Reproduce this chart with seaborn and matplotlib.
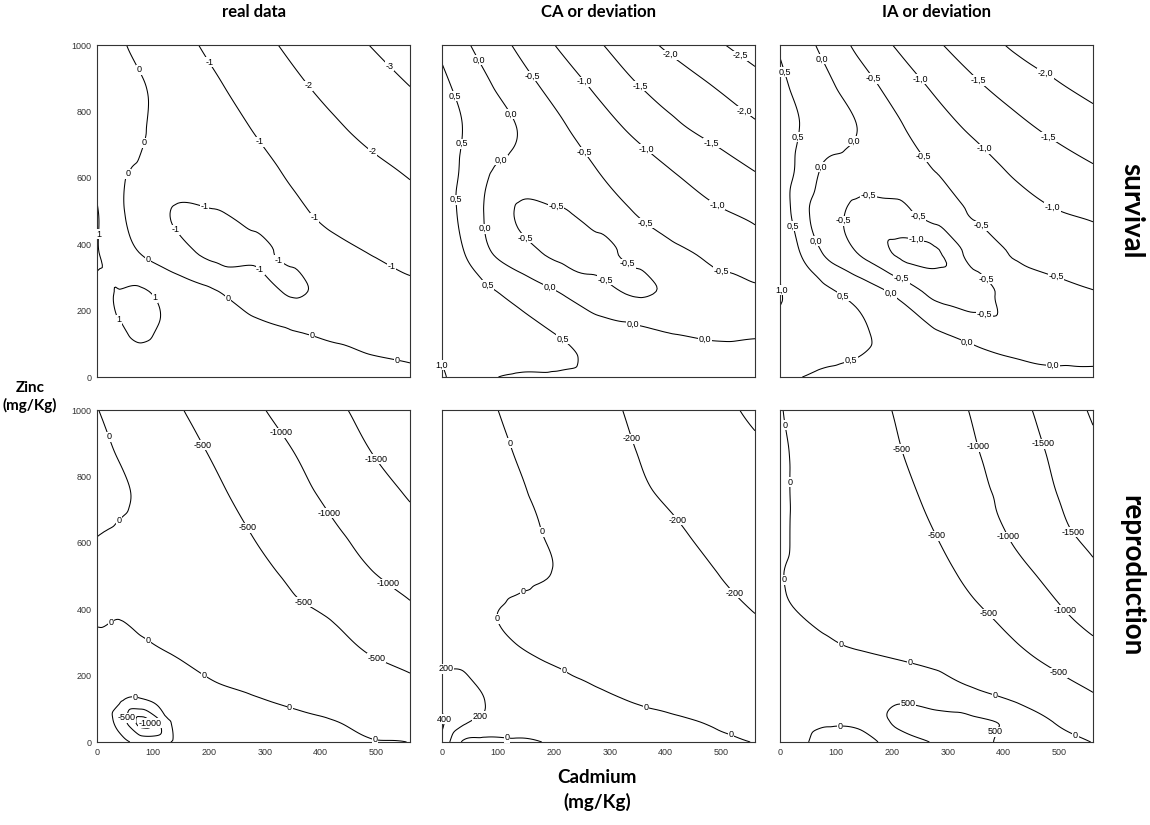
import numpy as np
import matplotlib
matplotlib.use("Agg")
import matplotlib.pyplot as plt
import matplotlib.tri as mtri
import seaborn as sns

# ---------------- data ----------------
cadmium = [0, 40, 80, 140, 210, 280, 350, 420, 490, 560]
zinc = [0, 60, 125, 250, 375, 500, 625, 750, 875, 1000]

# rows = zinc (bottom -> top), columns = cadmium
survival_real = [
    [0.6, 0.8, 0.5, 0.45, 0.4, 0.35, 0.3, 0.25, 0.15, 0.1],
    [0.85, 0.9, 0.85, 0.7, 0.5, 0.35, 0.2, 0.1, 0.02, -0.05],
    [0.9, 0.95, 1.05, 0.8, 0.5, 0.3, 0.1, -0.07, -0.2, -0.31],
    [0.85, 1.03, 1.12, 0.6, 0.12, -0.49, -1.06, -0.75, -0.78, -0.8],
    [1.05, 0.4, -0.05, -0.64, -1.22, -1.1, -0.9, -0.88, -1.02, -1.26],
    [1.05, 0.15, -0.4, -1.06, -1.02, -0.85, -0.92, -1.15, -1.45, -1.71],
    [0.8, 0.15, -0.1, -0.32, -0.58, -0.82, -1.1, -1.45, -1.8, -2.1],
    [0.6, 0.35, 0.05, -0.28, -0.66, -1.03, -1.4, -1.85, -2.25, -2.56],
    [0.5, 0.25, 0.05, -0.37, -0.88, -1.35, -1.81, -2.25, -2.62, -3.0],
    [0.4, 0.1, -0.22, -0.68, -1.21, -1.70, -2.17, -2.60, -3.02, -3.4],
]
survival_ca = [
    [1.05, 0.8, 0.55, 0.45, 0.45, 0.4, 0.3, 0.25, 0.2, 0.15],
    [0.98, 0.85, 0.75, 0.65, 0.58, 0.4, 0.25, 0.12, 0.1, 0.08],
    [0.95, 0.85, 0.75, 0.65, 0.49, 0.3, 0.15, 0.01, -0.04, -0.02],
    [0.9, 0.75, 0.6, 0.35, 0.02, -0.35, -0.53, -0.42, -0.4, -0.4],
    [0.85, 0.5, 0.07, -0.31, -0.6, -0.56, -0.44, -0.46, -0.58, -0.8],
    [0.8, 0.35, -0.05, -0.56, -0.52, -0.42, -0.52, -0.73, -0.95, -1.1],
    [0.75, 0.42, 0.06, -0.15, -0.3, -0.51, -0.77, -1.04, -1.27, -1.52],
    [0.7, 0.48, 0.25, -0.03, -0.42, -0.78, -1.12, -1.43, -1.67, -1.92],
    [0.6, 0.35, 0.07, -0.3, -0.7, -1.1, -1.48, -1.74, -2.02, -2.3],
    [0.4, 0.08, -0.2, -0.6, -1.05, -1.45, -1.82, -2.15, -2.43, -2.72],
]
survival_ia = [
    [0.55, 0.5, 0.4, 0.35, 0.3, 0.25, 0.2, 0.1, 0.05, 0.05],
    [0.8, 0.7, 0.6, 0.5, 0.35, 0.2, 0.08, -0.01, -0.05, -0.05],
    [0.85, 0.8, 0.7, 0.58, 0.3, 0.07, -0.1, -0.3, -0.25, -0.2],
    [1.02, 0.8, 0.62, 0.35, -0.07, -0.62, -0.72, -0.3, -0.38, -0.47],
    [0.9, 0.45, -0.05, -0.52, -1.05, -1.05, -0.3, -0.55, -0.68, -0.78],
    [0.85, 0.15, -0.25, -0.6, -0.6, -0.3, -0.58, -0.8, -0.98, -1.08],
    [0.8, 0.35, -0.07, -0.22, -0.37, -0.52, -0.78, -1.07, -1.27, -1.45],
    [0.7, 0.47, 0.27, -0.01, -0.43, -0.79, -1.1, -1.37, -1.6, -1.8],
    [0.6, 0.35, 0.12, -0.26, -0.7, -1.09, -1.43, -1.7, -1.94, -2.13],
    [0.45, 0.17, -0.12, -0.61, -1.05, -1.44, -1.76, -2.07, -2.22, -2.38],
]
reproduction_real = [
    [400, 150, -150, 60, 50, 40, 30, 20, 10, -5],
    [350, -150, -1150, 100, 120, 80, 50, 10, -60, -150],
    [300, 40, -40, 110, 60, 20, -40, -120, -220, -320],
    [200, 130, 60, 8, -80, -180, -270, -380, -480, -590],
    [-40, -5, -60, -150, -250, -340, -430, -515, -720, -900],
    [-50, -70, -120, -200, -300, -410, -550, -780, -970, -1120],
    [5, -35, -80, -180, -340, -510, -700, -935, -1130, -1335],
    [150, 50, -50, -225, -430, -640, -870, -1090, -1310, -1545],
    [80, -25, -150, -330, -545, -770, -995, -1240, -1500, -1740],
    [10, -130, -260, -450, -690, -925, -1170, -1400, -1640, -1870],
]
reproduction_ca = [
    [350, -30, -60, -30, 20, 20, 20, 15, 8, -2],
    [430, 220, 160, 100, 70, 50, 30, 12, -8, -30],
    [330, 260, 195, 130, 75, 25, -8, -35, -60, -85],
    [180, 170, 90, 25, -20, -60, -95, -125, -150, -170],
    [160, 110, 25, -40, -75, -100, -130, -160, -180, -197],
    [150, 115, 75, 30, -10, -60, -110, -155, -196, -240],
    [140, 110, 70, 25, -20, -80, -130, -185, -235, -285],
    [130, 100, 60, 12, -55, -125, -180, -225, -275, -330],
    [110, 80, 40, -12, -75, -140, -202, -260, -315, -370],
    [90, 55, 18, -35, -100, -160, -225, -290, -350, -435],
]
reproduction_ia = [
    [400, 150, -400, -300, 300, 520, 600, 350, 100, -10],
    [380, 300, 100, 120, 560, 600, 580, 400, -5, -220],
    [350, 300, 250, 280, 470, 380, 150, -20, -210, -425],
    [250, 180, 110, 50, -5, -110, -240, -390, -590, -795],
    [40, 2, -60, -140, -230, -330, -430, -620, -880, -1150],
    [8, -40, -100, -190, -300, -400, -600, -850, -1120, -1400],
    [40, -50, -120, -230, -360, -505, -760, -1060, -1380, -1600],
    [50, -60, -145, -270, -410, -605, -900, -1140, -1480, -1750],
    [50, -70, -165, -310, -475, -700, -975, -1250, -1570, -1900],
    [15, -90, -190, -345, -530, -790, -1050, -1360, -1680, -2060],
]

levels_surv_real = [-3, -2, -1, 0, 1]
levels_surv_ca = [-2.5, -2.0, -1.5, -1.0, -0.5, 0.0, 0.5, 1.0]
levels_surv_ia = [-2.0, -1.5, -1.0, -0.5, 0.0, 0.5, 1.0]
levels_rep_real = [-1500, -1000, -500, 0, 500, 1000]
levels_rep_ca = [-400, -200, 0, 200, 400]
levels_rep_ia = [-2000, -1500, -1000, -500, 0, 500]

col_titles = ["real data", "CA or deviation", "IA or deviation"]
row_titles = ["survival", "reproduction"]
x_ticks = [0, 100, 200, 300, 400, 500]
y_ticks = [0, 200, 400, 600, 800, 1000]

# label anchor spots (Cd, Zn) where contour labels sit in the reference
label_spots = [
    [(76, 926), (70, 712), (52, 616), (94, 363), (239, 245), (386, 129), (537, 55),
     (200, 947), (290, 706), (395, 490), (525, 329),
     (193, 515), (143, 447), (318, 338), (273, 289),
     (377, 876), (490, 672), (524, 938), (90, 224), (43, 177), (3, 430)],
    [(66, 955), (124, 792), (100, 668), (70, 446), (193, 271), (342, 163), (473, 140),
     (23, 847), (35, 703), (27, 534), (85, 286), (217, 115), (5, 40),
     (160, 905), (255, 678), (366, 468), (500, 316),
     (204, 506), (148, 416), (327, 331), (282, 269),
     (253, 887), (358, 674), (488, 506), (354, 875), (479, 694),
     (405, 964), (539, 797), (533, 967)],
    [(69, 952), (135, 706), (77, 630), (65, 409), (196, 246), (335, 104), (488, 35),
     (12, 920), (35, 721), (22, 454), (116, 249), (130, 35), (4, 261),
     (165, 896), (256, 663), (356, 447), (491, 288),
     (160, 565), (105, 472), (246, 482), (216, 291), (367, 293), (365, 184),
     (243, 412), (249, 894), (362, 683), (488, 513),
     (353, 889), (479, 719), (473, 907)],
    [(23, 920), (45, 658), (20, 375), (90, 304), (193, 206), (345, 106), (500, 30),
     (70, 154), (185, 889), (269, 646), (373, 430), (501, 256),
     (325, 927), (412, 685), (523, 482), (499, 852),
     (41, 75), (88, 55)],
    [(120, 900), (183, 636), (149, 435), (91, 368), (213, 198), (365, 102), (520, 37),
     (117, 22), (342, 915), (418, 664), (521, 445), (7, 213), (73, 62), (10, 70)],
    [(9, 954), (14, 783), (6, 488), (113, 307), (232, 237), (384, 141), (530, 25),
     (107, 42), (215, 881), (283, 624), (383, 403), (502, 217),
     (352, 888), (414, 624), (513, 403), (465, 896), (526, 634),
     (229, 123), (383, 30)],
]

# ---------------- style ----------------
sns.set_theme(style="white")
plt.rcParams["font.family"] = ["Liberation Sans Narrow", "Liberation Sans", "DejaVu Sans"]
plt.rcParams["axes.edgecolor"] = "#333333"
plt.rcParams["axes.linewidth"] = 0.8


def fmt_int(v):
    return "%d" % round(v)


def fmt_comma(v):
    if abs(v) < 1e-9:
        v = 0.0
    return ("%.1f" % v).replace(".", ",")


panels = [
    (survival_real, levels_surv_real, fmt_int),
    (survival_ca, levels_surv_ca, fmt_comma),
    (survival_ia, levels_surv_ia, fmt_comma),
    (reproduction_real, levels_rep_real, fmt_int),
    (reproduction_ca, levels_rep_ca, fmt_int),
    (reproduction_ia, levels_rep_ia, fmt_int),
]

fig = plt.figure(figsize=(11.5, 8.25), dpi=100)
W, H = 1150.0, 825.0
col_left = [97, 442, 780]
row_top = [45, 410]
pw, ph = 313, 332

# grid triangulation, cells split along the upper-left / lower-right diagonal
nx, ny = len(cadmium), len(zinc)
Xg, Yg = np.meshgrid(np.array(cadmium, float), np.array(zinc, float))
triangles = []
for j in range(ny - 1):
    for i in range(nx - 1):
        p00 = j * nx + i
        p10 = p00 + 1
        p01 = p00 + nx
        p11 = p01 + 1
        triangles.append([p00, p10, p01])
        triangles.append([p10, p11, p01])
tri = mtri.Triangulation(Xg.ravel() / 560.0, Yg.ravel() / 1000.0, np.array(triangles))
refiner = mtri.UniformTriRefiner(tri)

for idx, (rows, levels, fmt) in enumerate(panels):
    r, c = divmod(idx, 3)
    ax = fig.add_axes([col_left[c] / W, 1 - (row_top[r] + ph) / H, pw / W, ph / H])
    z = np.array(rows, float).ravel()
    interp = mtri.CubicTriInterpolator(tri, z, kind="geom")
    tri_r, z_r = refiner.refine_field(z, triinterpolator=interp, subdiv=4)
    tri_plot = mtri.Triangulation(tri_r.x * 560.0, tri_r.y * 1000.0, tri_r.triangles)
    cs = ax.tricontour(tri_plot, z_r, levels=levels, colors="black",
                       linewidths=0.75, linestyles="solid")
    labels = ax.clabel(cs, fmt=fmt, fontsize=6.5, inline=False,
                       manual=label_spots[idx])
    for t in labels:
        t.set_rotation(0)
        t.set_bbox(dict(facecolor="white", edgecolor="none", pad=0.4))
        t.set_clip_on(False)
    ax.set_xlim(0, 560)
    ax.set_ylim(0, 1000)
    ax.tick_params(direction="out", length=2.5, width=0.6, labelsize=6.5, pad=1.5,
                   colors="#333333")
    if r == 1:
        ax.set_xticks(x_ticks)
    else:
        ax.set_xticks([])
    if c == 0:
        ax.set_yticks(y_ticks)
    else:
        ax.set_yticks([])
    for s in ax.spines.values():
        s.set_visible(True)

title_font = dict(family=["Lato", "DejaVu Sans"], fontweight="bold", color="black")
for c, t in enumerate(col_titles):
    fig.text((col_left[c] + pw / 2) / W, 1 - 12 / H, t, ha="center", va="center",
             fontsize=12, **title_font)
for r, t in enumerate(row_titles):
    fig.text(1131 / W, 1 - (row_top[r] + ph / 2) / H, t, ha="center", va="center",
             rotation=-90, fontsize=20, **title_font)
fig.text(30 / W, 1 - 397 / H, "Zinc\n(mg/Kg)", ha="center", va="center",
         fontsize=11, linespacing=1.2, **title_font)
fig.text(597 / W, 1 - 790 / H, "Cadmium\n(mg/Kg)", ha="center", va="center",
         fontsize=13.5, linespacing=1.45, **title_font)

fig.savefig("out.png", dpi=100)
